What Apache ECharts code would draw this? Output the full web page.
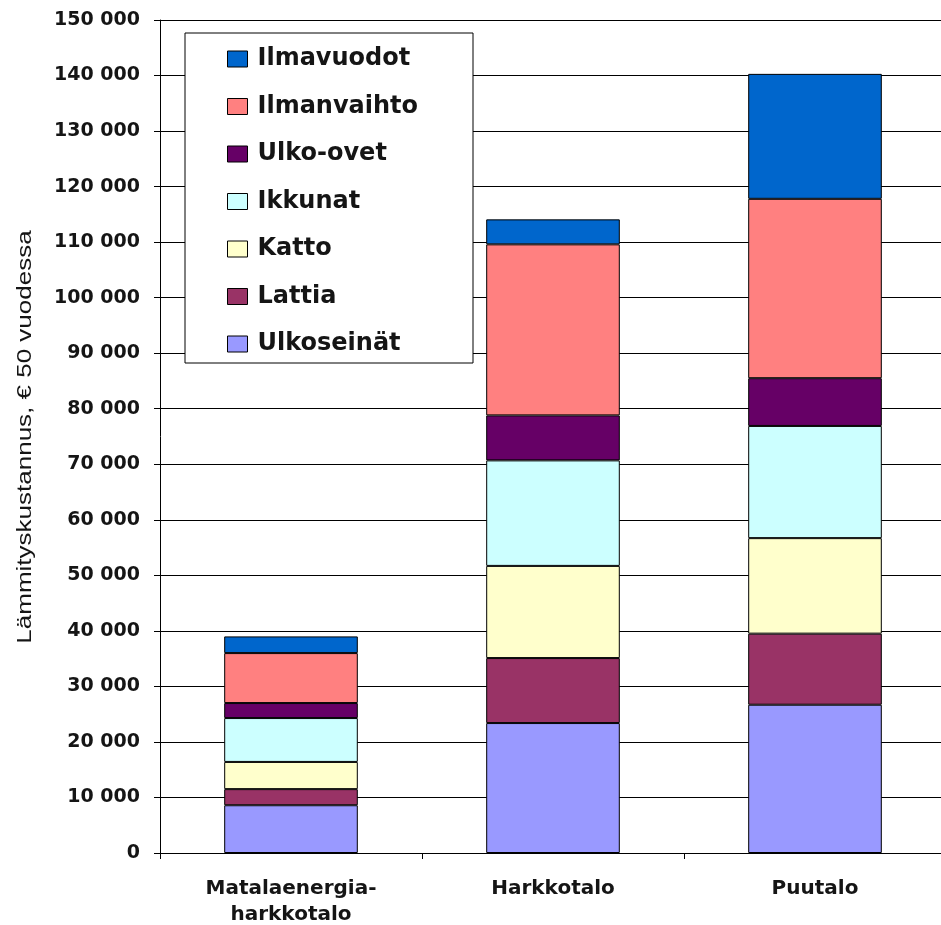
<!DOCTYPE html>
<html>
<head>
<meta charset="utf-8">
<script src="https://cdn.jsdelivr.net/npm/echarts@6/dist/echarts.min.js"></script>
<style>
html,body{margin:0;padding:0;background:#fff;}
#main{width:941px;height:925px;}
</style>
</head>
<body>
<div id="main"></div>
<script>
var categories = ['Matalaenergia-\nharkkotalo', 'Harkkotalo', 'Puutalo'];
var seriesNames = ['Ulkoseinät', 'Lattia', 'Katto', 'Ikkunat', 'Ulko-ovet', 'Ilmanvaihto', 'Ilmavuodot'];
var ulkoseinat = [8600, 23400, 26700];
var lattia = [2900, 11700, 12800];
var katto = [4900, 16600, 17200];
var ikkunat = [7900, 19000, 20200];
var ulkoovet = [2700, 8100, 8600];
var ilmanvaihto = [9000, 30800, 32300];
var ilmavuodot = [3000, 4500, 22500];
var seriesColors = ['#9999FF', '#993366', '#FFFFCC', '#CCFFFF', '#660066', '#FF8080', '#0066CC'];
var yTitle = 'Lämmityskustannus, € 50 vuodessa';

var values = [ulkoseinat, lattia, katto, ikkunat, ulkoovet, ilmanvaihto, ilmavuodot];
var chart = echarts.init(document.getElementById('main'));
var txt = '#151515';
var option = {
  backgroundColor: '#fff',
  animation: false,
  grid: { left: 160, width: 786, top: 20, bottom: 72, containLabel: false, outerBoundsMode: 'none' },
  xAxis: {
    type: 'category',
    data: categories,
    axisLine: { lineStyle: { color: '#000', width: 1 } },
    axisTick: { show: true, length: 6, lineStyle: { color: '#000' } },
    axisLabel: { margin: 23, color: txt, fontFamily: 'DejaVu Sans', fontWeight: 'bold', fontSize: 20, lineHeight: 26 }
  },
  yAxis: {
    type: 'value',
    min: 0, max: 150000, interval: 10000,
    axisLine: { show: true, lineStyle: { color: '#000', width: 1 } },
    axisTick: { show: true, length: 6, lineStyle: { color: '#000' } },
    splitLine: { lineStyle: { color: '#000', width: 1 } },
    axisLabel: {
      margin: 20, color: txt, fontFamily: 'DejaVu Sans', fontWeight: 'bold', fontSize: 19,
      formatter: function (v) { return String(v).replace(/\B(?=(\d{3})+(?!\d))/g, ' '); }
    }
  },
  legend: {
    orient: 'vertical',
    left: 227, top: 47,
    padding: 0,
    data: seriesNames.slice().reverse(),
    icon: 'rect',
    itemWidth: 20, itemHeight: 16, itemGap: 23.5,
    itemStyle: { borderColor: '#000', borderWidth: 1 },
    textStyle: { color: txt, fontFamily: 'DejaVu Sans', fontWeight: 'bold', fontSize: 24, lineHeight: 24, padding: [0, 0, 0, 5] },
    z: 10
  },
  graphic: [
    { type: 'rect', z: 8, shape: { x: 185, y: 33, width: 288, height: 330 }, style: { fill: '#fff', stroke: '#000', lineWidth: 1 } },
    { type: 'text', x: 25, y: 437, rotation: Math.PI / 2, scaleX: 1.3, style: { text: yTitle, fill: txt, font: '20px "Liberation Sans", Arial, sans-serif', align: 'center', verticalAlign: 'middle' } }
  ],
  series: seriesNames.map(function (n, i) {
    return {
      name: n, type: 'bar', stack: 'total', barWidth: '51%',
      data: values[i],
      itemStyle: { color: seriesColors[i], borderColor: '#000', borderWidth: 1 }
    };
  })
};
chart.setOption(option);
</script>
</body>
</html>
